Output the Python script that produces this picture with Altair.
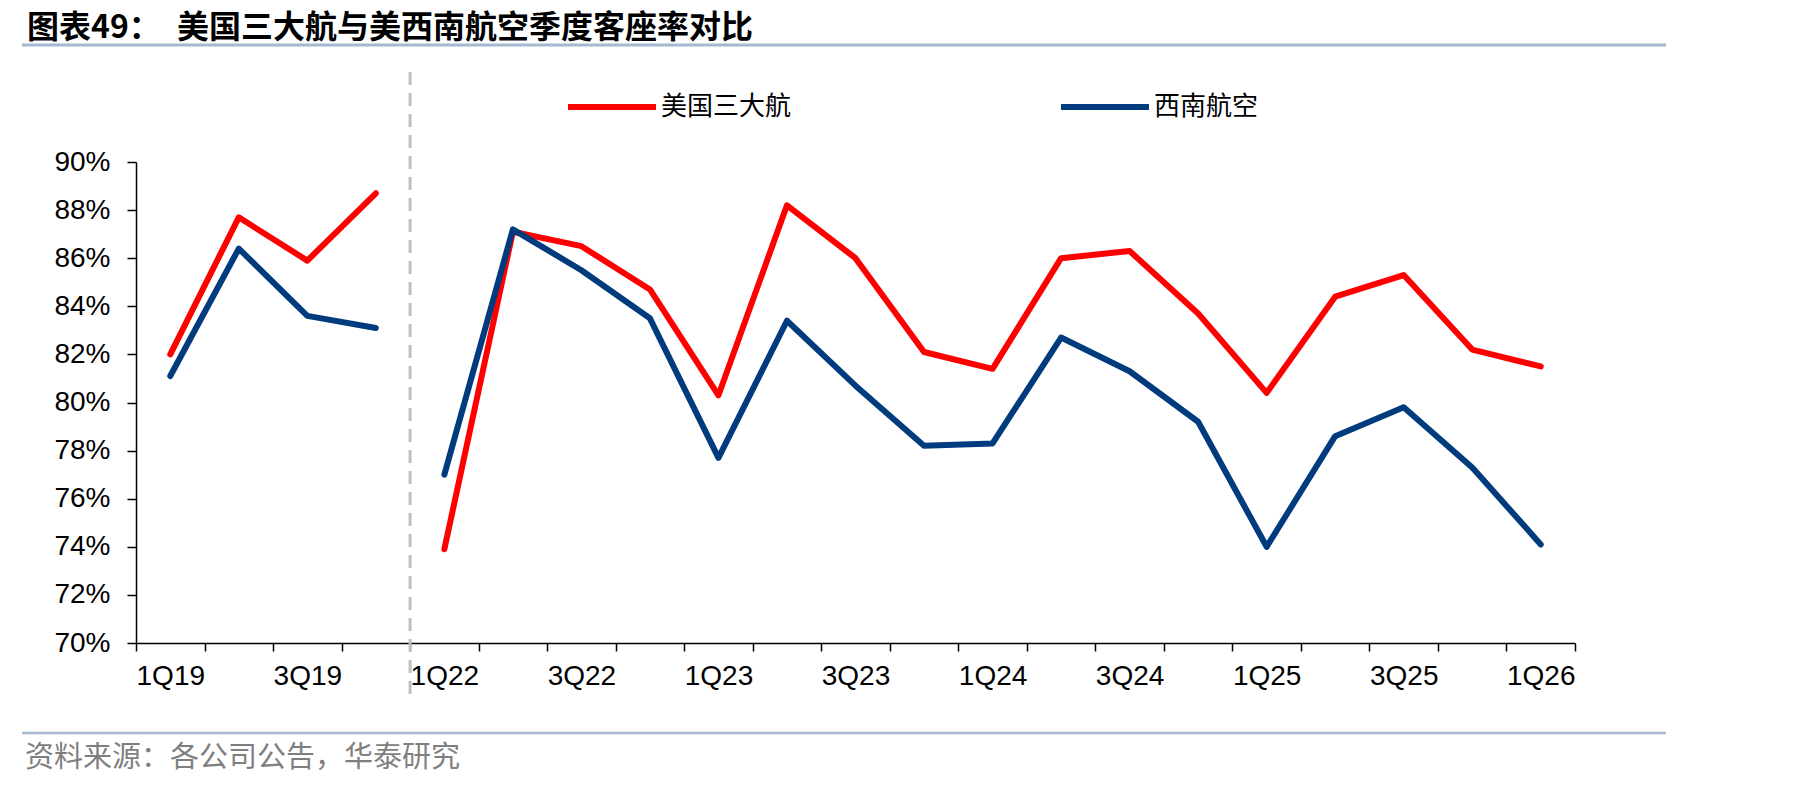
import altair as alt
import pandas as pd

quarters = ["1Q19", "2Q19", "3Q19", "4Q19",
            "1Q22", "2Q22", "3Q22", "4Q22",
            "1Q23", "2Q23", "3Q23", "4Q23",
            "1Q24", "2Q24", "3Q24", "4Q24",
            "1Q25", "2Q25", "3Q25", "4Q25",
            "1Q26"]
segment = ["2019"] * 4 + ["2022-2026"] * 17
big3 = [82.0, 87.7, 85.9, 88.7,
        73.9, 87.1, 86.5, 84.7,
        80.3, 88.2, 86.0, 82.1,
        81.4, 86.0, 86.3, 83.7,
        80.4, 84.4, 85.3, 82.2,
        81.5]
southwest = [81.1, 86.4, 83.6, 83.1,
             77.0, 87.2, 85.5, 83.5,
             77.7, 83.4, 80.7, 78.2,
             78.3, 82.7, 81.3, 79.2,
             74.0, 78.6, 79.8, 77.3,
             74.1]
series_names = ["美国三大航", "西南航空"]
series_colors = ["#FF0000", "#003B7D"]
y_ticks = [70, 72, 74, 76, 78, 80, 82, 84, 86, 88, 90]
break_after = ["4Q19"]
title_label = "图表49："
title_text = "美国三大航与美西南航空季度客座率对比"
source_text = "资料来源：各公司公告，华泰研究"

rows = []
for i, q in enumerate(quarters):
    rows.append({"q": q, "series": series_names[0], "v": big3[i], "seg": segment[i]})
    rows.append({"q": q, "series": series_names[1], "v": southwest[i], "seg": segment[i]})
df = pd.DataFrame(rows)

plot_w = 1439
band_half = plot_w / len(quarters) / 2

xscale = alt.Scale(type="band", domain=quarters, paddingInner=0, paddingOuter=0)

lines = alt.Chart(df).mark_line(strokeWidth=6, strokeCap="round", strokeJoin="round").encode(
    x=alt.X("q:N", scale=xscale, bandPosition=0.5,
            axis=alt.Axis(title=None, tickBand="extent", labelOffset=band_half, labelAngle=0,
                          labelExpr="test(/^[13]Q/, datum.value) ? datum.value : ''",
                          labelFont="Liberation Sans", labelFontSize=28, labelColor="black",
                          labelPadding=25, labelOverlap=False,
                          tickSize=8, tickColor="black", tickWidth=1.5,
                          domainColor="black", domainWidth=1.5, grid=False)),
    y=alt.Y("v:Q", scale=alt.Scale(domain=[70, 90], nice=False, zero=False),
            axis=alt.Axis(title=None, values=y_ticks, labelExpr="datum.value + '%'",
                          labelFont="Liberation Sans", labelFontSize=28, labelColor="black",
                          labelPadding=17, tickSize=9, tickColor="black", tickWidth=1.5,
                          domainColor="black", domainWidth=1.5, grid=False)),
    color=alt.Color("series:N", scale=alt.Scale(domain=series_names, range=series_colors),
                    legend=alt.Legend(orient="none", legendX=429, legendY=-102,
                                      direction="horizontal", title=None,
                                      symbolType="stroke", symbolSize=7744,
                                      symbolStrokeWidth=6, labelFont="Noto Sans CJK SC",
                                      labelFontSize=26, labelColor="black", labelOffset=2,
                                      columnPadding=257, padding=0)),
    detail="seg:N",
)

divider = alt.Chart(pd.DataFrame({"q": break_after})).mark_rule(
    color="#BFBFBF", strokeWidth=3, strokeDash=[13, 8]).encode(
    x=alt.X("q:N", scale=xscale, bandPosition=1),
    y=alt.value(-90), y2=alt.value(538))

one = pd.DataFrame({"a": [0]})
title_a = alt.Chart(pd.DataFrame({"t": [title_label]})).mark_text(
    align="left", baseline="alphabetic", font="Noto Sans CJK SC", fontWeight="bold",
    fontSize=32, color="black").encode(text="t:N", x=alt.value(-109), y=alt.value(-124))
title_b = alt.Chart(pd.DataFrame({"t": [title_text]})).mark_text(
    align="left", baseline="alphabetic", font="Noto Sans CJK SC", fontWeight="bold",
    fontSize=32, color="black").encode(text="t:N", x=alt.value(41), y=alt.value(-124))
top_rule = alt.Chart(one).mark_rule(color="#A5B8D0", strokeWidth=3).encode(
    x=alt.value(-114), x2=alt.value(1530), y=alt.value(-117))
bottom_rule = alt.Chart(one).mark_rule(color="#A5B8D0", strokeWidth=2.5).encode(
    x=alt.value(-114), x2=alt.value(1530), y=alt.value(571))
source = alt.Chart(pd.DataFrame({"t": [source_text]})).mark_text(
    align="left", baseline="middle", font="Noto Sans CJK SC", fontSize=29,
    color="#7F7F7F").encode(text="t:N", x=alt.value(-111), y=alt.value(596))

chart = alt.layer(divider, lines, title_a, title_b, top_rule, bottom_rule, source).properties(
    width=plot_w, height=481,
    padding={"left": 136, "top": 162, "right": 244, "bottom": 144},
    autosize=alt.AutoSizeParams(type="none"),
    background="white",
).configure_view(strokeWidth=0)

chart.save("out.html", embed_options={"renderer": "svg", "actions": False})
